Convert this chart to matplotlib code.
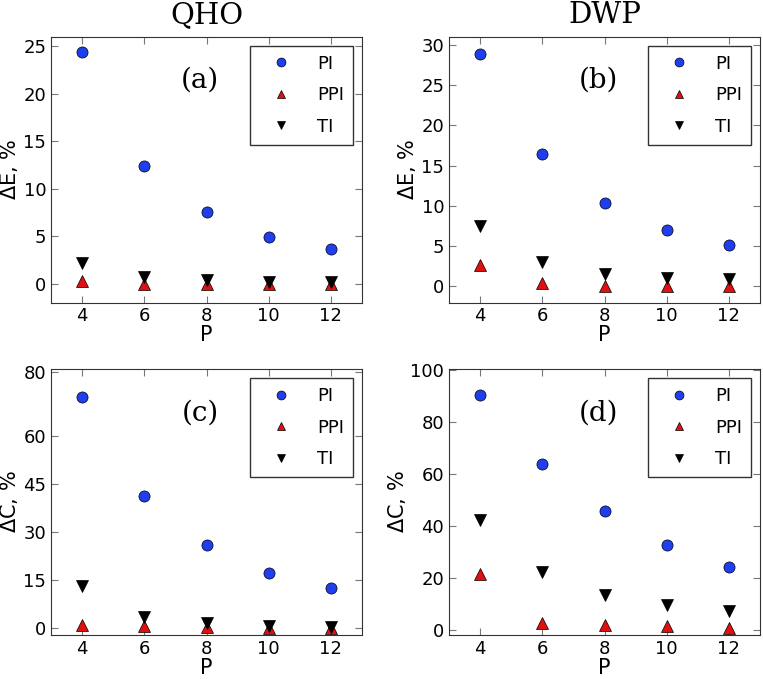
import matplotlib.pyplot as plt

# Trotter number P
P = [4, 6, 8, 10, 12]

# (a) QHO energy error, %
qho_E_PI = [24.4, 12.4, 7.5, 4.85, 3.6]
qho_E_PPI = [0.3, 0.0, 0.0, 0.0, 0.0]
qho_E_TI = [2.2, 0.7, 0.4, 0.2, 0.15]

# (b) DWP energy error, %
dwp_E_PI = [28.8, 16.4, 10.4, 7.0, 5.1]
dwp_E_PPI = [2.6, 0.4, 0.05, 0.05, 0.0]
dwp_E_TI = [7.45, 3.0, 1.6, 1.1, 0.9]

# (c) QHO heat capacity error, %
qho_C_PI = [72.3, 41.3, 26.0, 17.3, 12.7]
qho_C_PPI = [1.1, 0.8, 0.4, 0.2, 0.2]
qho_C_TI = [13.3, 3.7, 1.6, 0.8, 0.6]

# (d) DWP heat capacity error, %
dwp_C_PI = [90.5, 64.0, 45.8, 32.7, 24.0]
dwp_C_PPI = [21.6, 2.4, 1.8, 1.5, 0.8]
dwp_C_TI = [42.2, 22.3, 13.2, 9.4, 7.3]

panels = [
    ("(a)", r"$\Delta$E, %", qho_E_PI, qho_E_PPI, qho_E_TI, (-2, 26), [0, 5, 10, 15, 20, 25]),
    ("(b)", r"$\Delta$E, %", dwp_E_PI, dwp_E_PPI, dwp_E_TI, (-2, 31), [0, 5, 10, 15, 20, 25, 30]),
    ("(c)", r"$\Delta$C, %", qho_C_PI, qho_C_PPI, qho_C_TI, (-2, 81), [0, 15, 30, 45, 60, 80]),
    ("(d)", r"$\Delta$C, %", dwp_C_PI, dwp_C_PPI, dwp_C_TI, (-2, 100.5), [0, 20, 40, 60, 80, 100]),
]

fig, axes = plt.subplots(2, 2, figsize=(7.63, 6.79), dpi=100)
fig.subplots_adjust(left=0.067, right=0.996, top=0.946, bottom=0.065, wspace=0.28, hspace=0.25)

for ax, (tag, ylab, pi, ppi, ti, ylim, yticks) in zip(axes.flat, panels):
    ax.plot(P, pi, "o", color="#1f3fef", mec="black", mew=0.5, ms=8, label="PI")
    ax.plot(P, ppi, "^", color="#e01010", mec="black", mew=0.5, ms=8, label="PPI")
    ax.plot(P, ti, "v", color="black", mec="black", mew=0.5, ms=8, label="TI")
    ax.set_xlim(3, 13)
    ax.set_ylim(*ylim)
    ax.set_xticks(P)
    ax.set_yticks(yticks)
    ax.tick_params(direction="in", top=True, right=True, length=5, color="#777777", labelsize=13)
    for s in ax.spines.values():
        s.set_color("#333333")
    ax.set_xlabel("P", fontsize=15, labelpad=0)
    ax.set_ylabel(ylab, fontsize=15, labelpad=2)
    ax.text(0.48, 0.835, tag, transform=ax.transAxes, ha="center", va="center",
            fontsize=20, family="DejaVu Serif")
    leg = ax.legend(loc="upper right", numpoints=1, markerscale=0.8, fontsize=13,
                    fancybox=False, borderaxespad=0.5, labelspacing=0.75,
                    handletextpad=0.8, borderpad=0.5, handlelength=2.4)
    leg.get_frame().set_edgecolor("black")
    leg.get_frame().set_linewidth(1.0)

axes[0, 0].set_title("QHO", fontsize=21, family="DejaVu Serif", pad=10)
axes[0, 1].set_title("DWP", fontsize=21, family="DejaVu Serif", pad=10)

fig.savefig("out.png")
